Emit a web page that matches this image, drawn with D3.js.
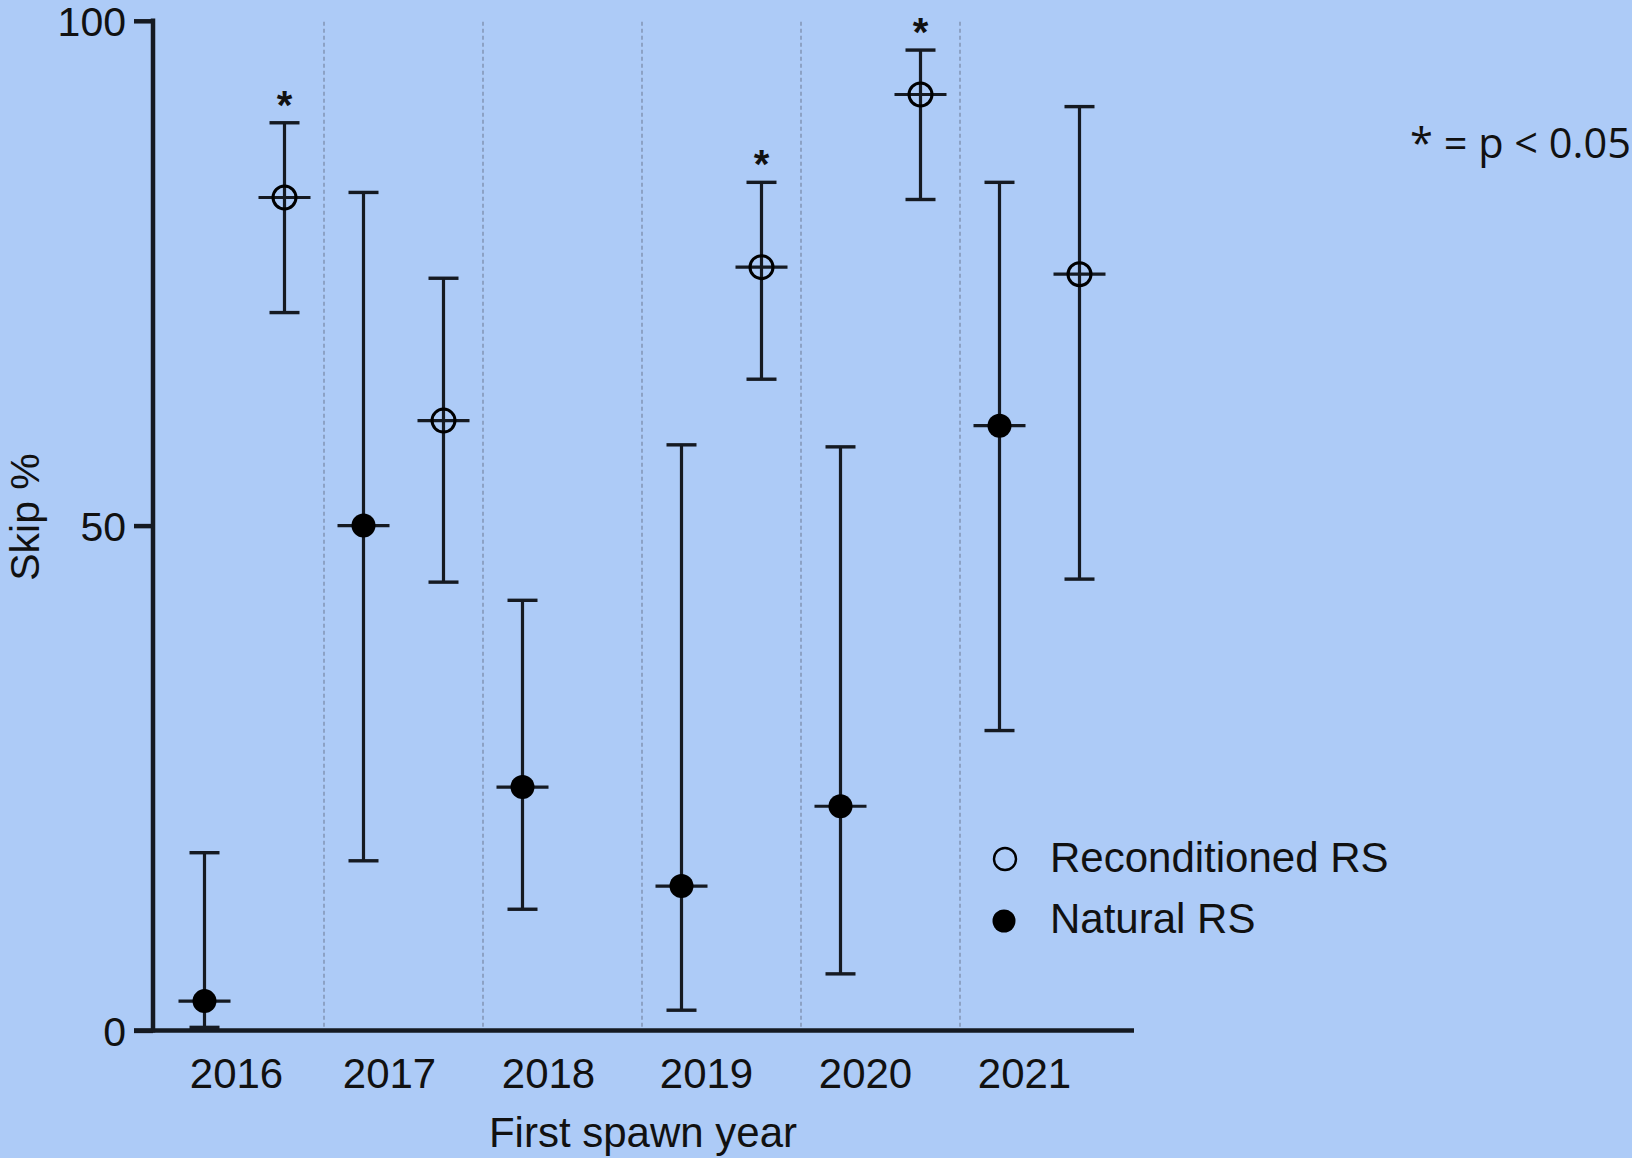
<!DOCTYPE html>
<html>
<head>
<meta charset="utf-8">
<script src="https://cdn.jsdelivr.net/npm/d3@7"></script>
<style>
  html, body { margin: 0; padding: 0; background: #adcbf7; }
  svg { display: block; }
  text { font-family: "Liberation Sans", Arial, sans-serif; fill: #111; }
</style>
</head>
<body>
<svg id="chart" width="1632" height="1158"></svg>
<script>
// ---- data ----
const years = ["2016", "2017", "2018", "2019", "2020", "2021"];
// Natural RS: mean, lower CI, upper CI
const naturalMean  = [2.9, 50.0, 24.1, 14.3, 22.2, 59.9];
const naturalLow   = [0.3, 16.8, 12.0, 2.0, 5.6, 29.7];
const naturalHigh  = [17.6, 83.0, 42.6, 58.0, 57.8, 84.0];
// Reconditioned RS (null = no data)
const recondMean   = [82.5, 60.4, null, 75.6, 92.7, 74.9];
const recondLow    = [71.1, 44.4, null, 64.5, 82.3, 44.7];
const recondHigh   = [89.9, 74.5, null, 84.0, 97.1, 91.5];
const significant  = [true, false, false, true, true, false];
const yTicks = [0, 50, 100];
const seriesNames = ["Reconditioned RS", "Natural RS"];
const annotation = "* = p < 0.05";

// ---- layout ----
const svg = d3.select("#chart");
const axisX0 = 153, axisY0 = 1030.4, axisTop = 20.8, axisXEnd = 1134;
const x = d3.scaleBand().domain(years).range([165, 1119]).paddingInner(0).paddingOuter(0);
const y = d3.scaleLinear().domain([0, 100]).range([axisY0, axisTop]);
const off = 40;
const ink = "#151a22";

// separators
svg.append("g").selectAll("line").data(years.slice(1)).join("line")
  .attr("x1", d => x(d)).attr("x2", d => x(d))
  .attr("y1", axisTop + 1).attr("y2", axisY0)
  .attr("stroke", "#7888a4").attr("stroke-width", 1.2)
  .attr("stroke-dasharray", "4,3");

// y axis
const yAxis = svg.append("g").attr("transform", `translate(${axisX0},0)`)
  .call(d3.axisLeft(y).tickValues(yTicks).tickSize(19).tickPadding(8).tickFormat(d3.format("d")));
yAxis.select(".domain").remove();
yAxis.selectAll(".tick line").attr("stroke", ink).attr("stroke-width", 4.5);
yAxis.selectAll(".tick text").attr("font-size", 41).attr("font-family", "Liberation Sans").attr("fill", "#111").attr("dy", "0.36em");
svg.append("line").attr("x1", axisX0).attr("x2", axisX0).attr("y1", axisTop - 2.2).attr("y2", axisY0 + 2.2)
  .attr("stroke", ink).attr("stroke-width", 4.5);

// x axis
const labelShift = [-8, -14, -14, -15, -15, -15];
const xAxis = svg.append("g").attr("transform", `translate(0,${axisY0})`)
  .call(d3.axisBottom(x).tickSize(0).tickPadding(0));
xAxis.select(".domain").remove();
xAxis.selectAll(".tick text").attr("font-size", 42).attr("font-family", "Liberation Sans")
  .attr("fill", "#111").attr("y", 58).attr("dy", 0).attr("x", (d, i) => labelShift[i]);
svg.append("line").attr("x1", axisX0 - 19).attr("x2", axisXEnd).attr("y1", axisY0).attr("y2", axisY0)
  .attr("stroke", ink).attr("stroke-width", 4.5);

// axis titles
svg.append("text").attr("x", 643).attr("y", 1147).attr("text-anchor", "middle")
  .attr("font-size", 42).text("First spawn year");
svg.append("text").attr("transform", "translate(39,517) rotate(-90)").attr("text-anchor", "middle")
  .attr("font-size", 41).text("Skip %");

// error bars helper
function drawSeries(means, lows, highs, dx, filled) {
  const idx = years.map((d, i) => i).filter(i => means[i] !== null);
  const g = svg.append("g");
  const cx = i => x(years[i]) + x.bandwidth() / 2 + dx;
  g.selectAll(".v").data(idx).join("line")
    .attr("x1", cx).attr("x2", cx).attr("y1", i => y(lows[i])).attr("y2", i => y(highs[i]))
    .attr("stroke", ink).attr("stroke-width", 3.2);
  g.selectAll(".capH").data(idx).join("line")
    .attr("x1", i => cx(i) - 15).attr("x2", i => cx(i) + 15)
    .attr("y1", i => y(highs[i])).attr("y2", i => y(highs[i]))
    .attr("stroke", ink).attr("stroke-width", 3.4);
  g.selectAll(".capL").data(idx).join("line")
    .attr("x1", i => cx(i) - 15).attr("x2", i => cx(i) + 15)
    .attr("y1", i => y(lows[i])).attr("y2", i => y(lows[i]))
    .attr("stroke", ink).attr("stroke-width", 3.4);
  g.selectAll(".mean").data(idx).join("line")
    .attr("x1", i => cx(i) - 26).attr("x2", i => cx(i) + 26)
    .attr("y1", i => y(means[i])).attr("y2", i => y(means[i]))
    .attr("stroke", ink).attr("stroke-width", 3.2);
  g.selectAll("circle").data(idx).join("circle")
    .attr("cx", cx).attr("cy", i => y(means[i]))
    .attr("r", filled ? 12 : 11.5)
    .attr("fill", filled ? "#000" : "none")
    .attr("stroke", "#000").attr("stroke-width", filled ? 0 : 3);
  return cx;
}
drawSeries(naturalMean, naturalLow, naturalHigh, -off, true);
const cxR = drawSeries(recondMean, recondLow, recondHigh, off, false);

// significance stars
const sigIdx = years.map((d, i) => i).filter(i => significant[i]);
svg.append("g").selectAll("text").data(sigIdx).join("text")
  .attr("x", cxR).attr("y", i => y(recondHigh[i]) - 4)
  .attr("text-anchor", "middle").attr("font-size", 40).attr("font-weight", "bold").text("*");

// legend
const leg = svg.append("g");
leg.append("circle").attr("cx", 1005).attr("cy", 859).attr("r", 11)
  .attr("fill", "none").attr("stroke", "#000").attr("stroke-width", 2.4);
leg.append("circle").attr("cx", 1004).attr("cy", 921).attr("r", 11.5).attr("fill", "#000");
leg.append("text").attr("x", 1050).attr("y", 872).attr("font-size", 42).text(seriesNames[0]);
leg.append("text").attr("x", 1050).attr("y", 933).attr("font-size", 42).text(seriesNames[1]);

// annotation
svg.append("text").attr("x", 1410).attr("y", 158)
  .style("font-family", "'Open Sans', sans-serif").attr("font-size", 41.5).text(annotation);
</script>
</body>
</html>
